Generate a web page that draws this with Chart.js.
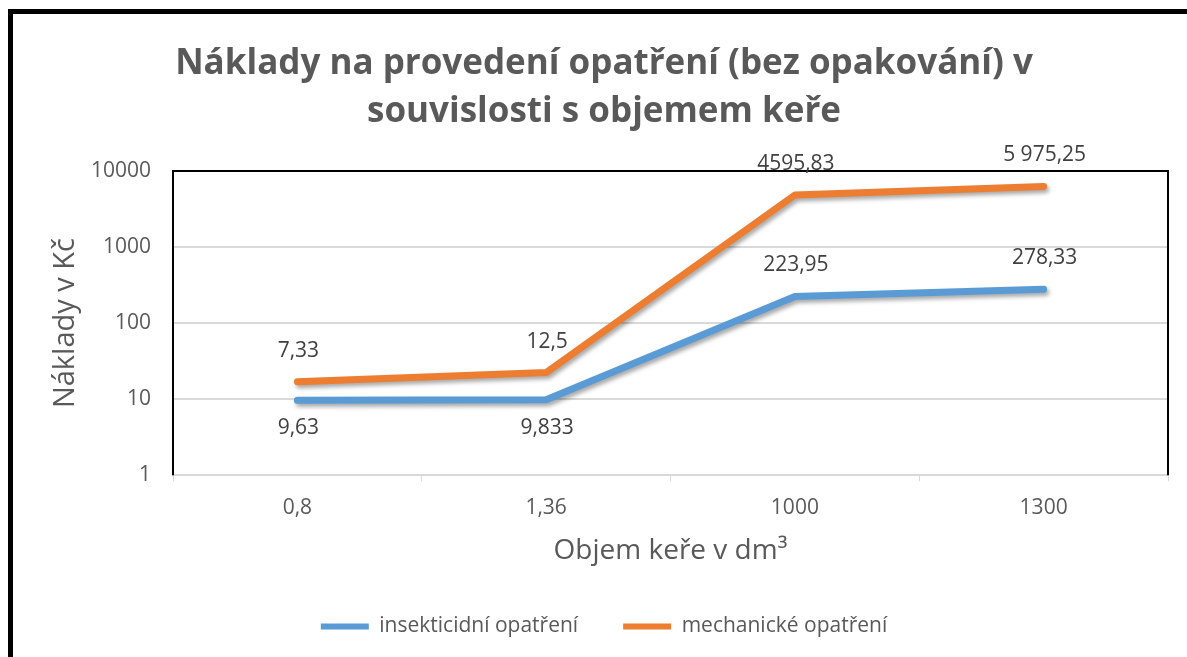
<!DOCTYPE html>
<html>
<head>
<meta charset="utf-8">
<script src="https://cdn.jsdelivr.net/npm/chart.js@4.4.1/dist/chart.umd.min.js"></script>
<style>
  html, body { margin: 0; padding: 0; background: #fff; }
  #wrap { position: relative; width: 1187px; height: 657px; overflow: hidden; }
  #frame { position: absolute; left: 8px; top: 9px; width: 1300px; height: 800px; border-left: 5px solid #000; border-top: 5px solid #000; }
  #c { position: absolute; left: 0; top: 0; }
</style>
</head>
<body>
<div id="wrap">
  <div id="frame"></div>
  <canvas id="c" width="1187" height="657"></canvas>
</div>
<script>
const categories = ["0,8", "1,36", "1000", "1300"]
const insekticidni = [9.63, 9.833, 223.95, 278.33]
const mechanicke = [7.33, 12.5, 4595.83, 5975.25]
const insekticidniLabels = ["9,63", "9,833", "223,95", "278,33"]
const mechanickeLabels = ["7,33", "12,5", "4595,83", "5 975,25"]
const yTicks = [1, 10, 100, 1000, 10000]

const FONT = "'Open Sans', sans-serif"
const GREY = "#595959"

// labels under the first two blue points, above the rest
const labelPlacement = [
  ["below", "below", "above", "above"],
  ["above", "above", "above", "above"],
]

const dataLabels = {
  id: "dataLabels",
  afterDatasetsDraw(chart) {
    const ctx = chart.ctx
    const texts = [insekticidniLabels, mechanickeLabels]
    ctx.save()
    ctx.font = "21px " + FONT
    ctx.fillStyle = "#404040"
    ctx.textAlign = "center"
    ctx.textBaseline = "middle"
    chart.data.datasets.forEach((ds, i) => {
      const meta = chart.getDatasetMeta(i)
      meta.data.forEach((pt, j) => {
        const dy = labelPlacement[i][j] === "below" ? 28 : -31
        ctx.fillText(texts[i][j], pt.x + 1, pt.y + dy)
      })
    })
    ctx.restore()
  },
}

const plotFrame = {
  id: "plotFrame",
  beforeDatasetsDraw(chart) {
    const { ctx, chartArea: a } = chart
    ctx.save()
    ctx.strokeStyle = "#000"
    ctx.lineWidth = 2
    ctx.beginPath()
    ctx.moveTo(a.left, a.bottom)
    ctx.lineTo(a.left, a.top)
    ctx.lineTo(a.right, a.top)
    ctx.lineTo(a.right, a.bottom)
    ctx.stroke()
    ctx.restore()
  },
  beforeDatasetDraw(chart) {
    const ctx = chart.ctx
    ctx.save()
    ctx.shadowColor = "rgba(0,0,0,0.35)"
    ctx.shadowBlur = 4
    ctx.shadowOffsetX = 2
    ctx.shadowOffsetY = 3
  },
  afterDatasetDraw(chart) {
    chart.ctx.restore()
  },
}

new Chart(document.getElementById("c"), {
  type: "line",
  data: {
    labels: categories,
    datasets: [
      {
        label: "insekticidní opatření",
        data: insekticidni,
        borderColor: "#5B9BD5",
        backgroundColor: "#5B9BD5",
        borderWidth: 7,
        pointRadius: 0,
        borderCapStyle: "round",
        borderJoinStyle: "round",
        tension: 0,
      },
      {
        label: "mechanické opatření",
        data: mechanicke,
        borderColor: "#ED7D31",
        backgroundColor: "#ED7D31",
        borderWidth: 7,
        pointRadius: 0,
        borderCapStyle: "round",
        borderJoinStyle: "round",
        tension: 0,
      },
    ],
  },
  options: {
    responsive: false,
    animation: false,
    layout: { padding: { top: 22, left: 40, right: 19, bottom: 10 } },
    plugins: {
      title: {
        display: true,
        text: ["Náklady na provedení opatření (bez opakování) v", "souvislosti s objemem keře"],
        color: GREY,
        font: { family: FONT, size: 35, weight: "bold", lineHeight: 1.37 },
        padding: { top: 18, bottom: 35 },
      },
      legend: {
        position: "bottom",
        labels: {
          color: GREY,
          font: { family: FONT, size: 21 },
          boxWidth: 48,
          boxHeight: 6,
          padding: 45,
          generateLabels(chart) {
            return Chart.defaults.plugins.legend.labels.generateLabels(chart).map((l) => ({ ...l, lineWidth: 0 }))
          },
        },
      },
      tooltip: { enabled: false },
    },
    scales: {
      x: {
        offset: true,
        grid: {
          display: true,
          offset: true,
          drawOnChartArea: false,
          drawTicks: true,
          tickLength: 6,
          color: "#d9d9d9",
        },
        border: { color: "#d9d9d9", width: 2 },
        ticks: { color: GREY, font: { family: FONT, size: 21 }, padding: 14 },
        title: {
          display: true,
          text: "Objem keře v dm³",
          color: GREY,
          font: { family: FONT, size: 28 },
          padding: { top: 0, bottom: 3 },
        },
      },
      y: {
        type: "logarithmic",
        stacked: true,
        min: 1,
        max: 10000,
        afterBuildTicks(scale) {
          scale.ticks = yTicks.map((v) => ({ value: v }))
        },
        afterFit(scale) {
          scale.width = 133
        },
        grid: { color: "#d9d9d9", lineWidth: 2, drawTicks: false },
        border: { display: false },
        ticks: {
          color: GREY,
          font: { family: FONT, size: 21 },
          padding: 22,
          callback: (v) => String(v),
        },
        title: {
          display: true,
          text: "Náklady v Kč",
          color: GREY,
          font: { family: FONT, size: 29 },
          padding: { top: 8, bottom: 6 },
        },
      },
    },
  },
  plugins: [dataLabels, plotFrame],
})
</script>
</body>
</html>
